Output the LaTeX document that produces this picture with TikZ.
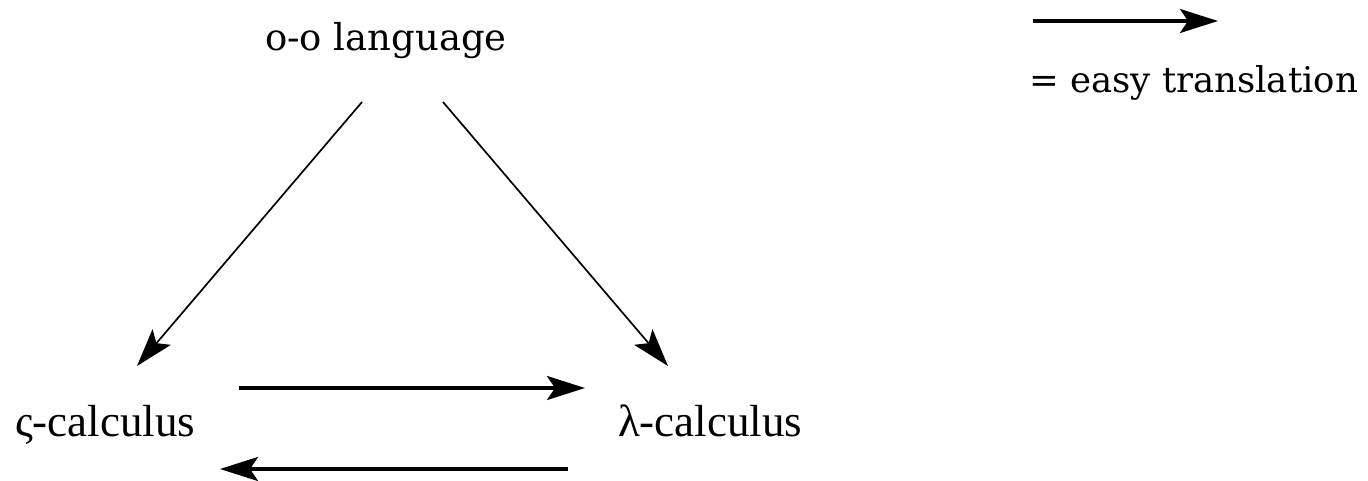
\documentclass[tikz,border=0pt]{standalone}
\usepackage{fontspec}
\setmainfont{DejaVu Serif}
\newfontfamily\timesf{Liberation Serif}
\usetikzlibrary{arrows.meta}
\begin{document}
\begin{tikzpicture}[x=1pt,y=-1pt,
  lbl/.style={inner sep=0pt, outer sep=0pt},
  bigserif/.style={font=\fontsize{37}{40}\selectfont},
  calc/.style={font=\timesf\fontsize{45}{50}\selectfont},
  head/.style={-{Stealth[length=38pt,width=24pt,inset=8pt]}},
  thinarrow/.style={head, line width=1.7pt},
  thickarrow/.style={head, line width=3.4pt}]
\useasboundingbox (0,0) rectangle (1368,480);
\node[lbl, bigserif, anchor=base west] (oo) at (265,50) {o-o language};
\node[lbl, calc, anchor=base west] (sig) at (15,436) {ς-calculus};
\node[lbl, calc, anchor=base west] (lam) at (618,436) {λ-calculus};
\node[lbl, font=\fontsize{35.5}{40}\selectfont, anchor=base east] (leg) at (1358,92) {= easy translation};
% connector end points
\coordinate (ooL) at (362,102);
\coordinate (ooR) at (443,102);
\coordinate (sigTop) at (137,366);
\coordinate (lamTop) at (668,366);
\coordinate (sigR1) at (239,388);
\coordinate (lamL1) at (585,388);
\coordinate (lamL2) at (568,469);
\coordinate (sigR2) at (220,469);
\coordinate (legA) at (1033,21);
\coordinate (legB) at (1218,21);
\draw[thinarrow] (ooL) -- (sigTop);
\draw[thinarrow] (ooR) -- (lamTop);
\draw[thickarrow] (sigR1) -- (lamL1);
\draw[thickarrow] (lamL2) -- (sigR2);
\draw[thickarrow] (legA) -- (legB);
\end{tikzpicture}
\end{document}
